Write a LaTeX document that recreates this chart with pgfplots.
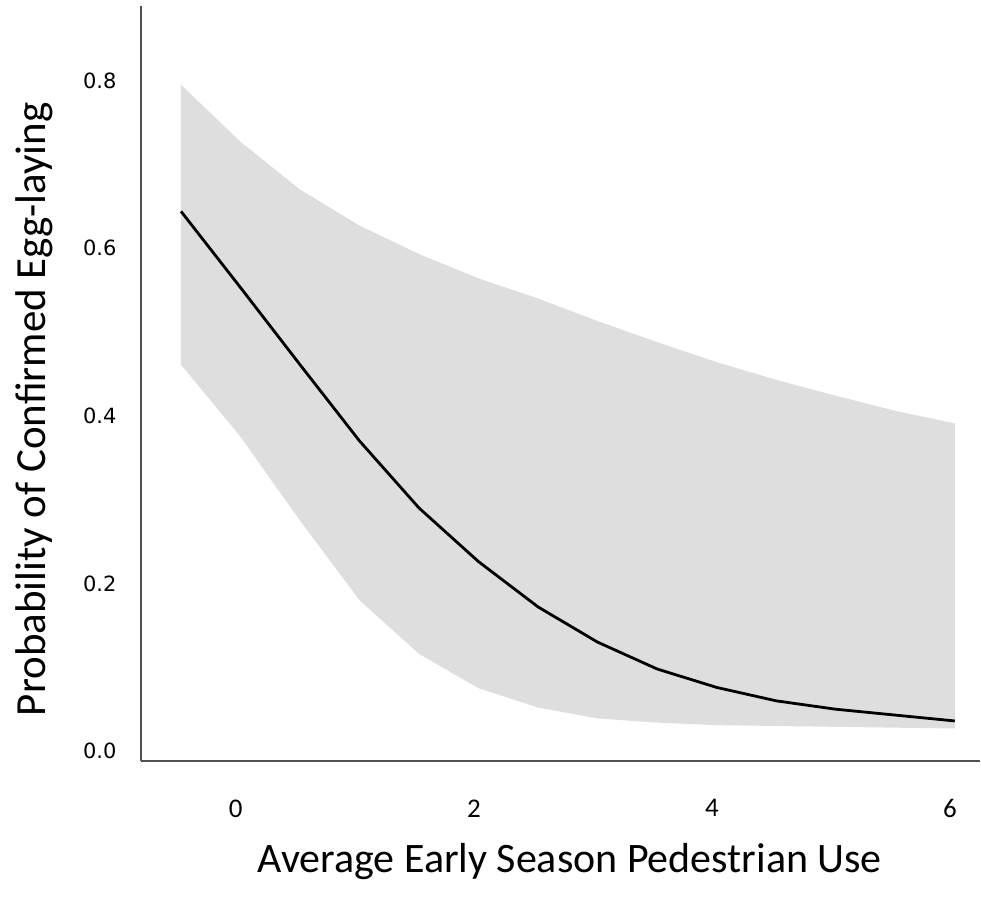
\documentclass[border=0pt]{standalone}
\usepackage{fontspec}
\setmainfont{Carlito}
\newfontfamily\dejavu{DejaVu Sans}
\usepackage{pgfplots}
\pgfplotsset{compat=1.18}
\definecolor{band}{HTML}{DEDEDE}
\definecolor{spine}{HTML}{505050}

\begin{document}
\begin{tikzpicture}
\begin{axis}[
    scale only axis,
    width=420pt, height=378pt,
    xmin=-0.797, xmax=6.252,
    ymin=-0.012, ymax=0.889,
    axis x line=bottom, axis y line=left,
    axis line style={spine, line width=1pt, -},
    major tick length=0pt,
    xtick={0,2,4,6},
    ytick={0,0.2,0.4,0.6,0.8},
    /pgf/number format/assume math mode=true,
    yticklabel={\pgfmathprintnumber[fixed,fixed zerofill,precision=1]{\tick}},
    yticklabel style={font=\dejavu\fontsize{10.5}{12}\selectfont, anchor=east, inner sep=0pt, xshift=-12pt},
    xticklabel style={font=\fontsize{13.5}{16}\selectfont, anchor=north, inner sep=0pt, yshift=-19pt},
    xlabel={Average Early Season Pedestrian Use},
    ylabel={Probability of Confirmed Egg-laying},
    x label style={font=\fontsize{21}{26}\selectfont, at={(axis description cs:0.511,-0.133)}, anchor=center},
    y label style={font=\fontsize{21.5}{26}\selectfont, at={(axis description cs:-0.127,0.466)}, anchor=center},
    clip=false,
]
% confidence band: upper edge left to right, lower edge right to left
\addplot[fill=band, draw=none] coordinates {
    (-0.46,0.795) (0.04,0.727) (0.54,0.670) (1.04,0.627) (1.54,0.593)
    (2.04,0.564) (2.54,0.540) (3.04,0.513) (3.54,0.488) (4.04,0.464)
    (4.54,0.443) (5.04,0.424) (5.54,0.406) (6.04,0.391)
    (6.04,0.027) (5.54,0.028) (5.04,0.029) (4.54,0.030) (4.04,0.031)
    (3.54,0.034) (3.04,0.039) (2.54,0.052) (2.04,0.075) (1.54,0.116)
    (1.04,0.180) (0.54,0.275) (0.04,0.375) (-0.46,0.461)
} -- cycle;
% fitted probability
\addplot[black, line width=1.4pt] coordinates {
    (-0.46,0.644) (0.04,0.553) (0.54,0.461) (1.04,0.370) (1.54,0.290)
    (2.04,0.226) (2.54,0.172) (3.04,0.130) (3.54,0.098) (4.04,0.076)
    (4.54,0.060) (5.04,0.050) (5.54,0.043) (6.04,0.036)
};
\path (axis description cs:-0.1679,-0.1812) rectangle (axis description cs:1,1.0079);
\end{axis}
\end{tikzpicture}
\end{document}
